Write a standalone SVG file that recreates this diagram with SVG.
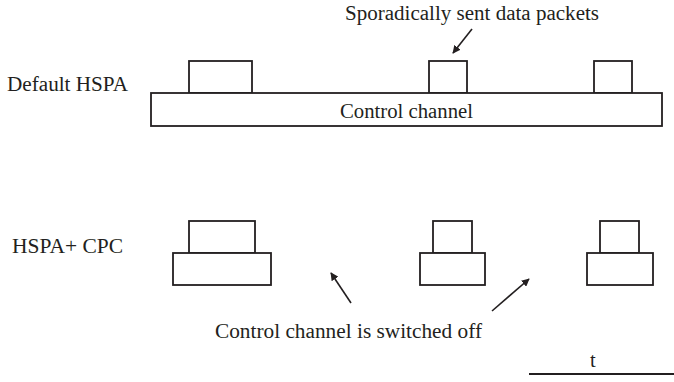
<svg xmlns="http://www.w3.org/2000/svg" width="674" height="382" viewBox="0 0 674 382">
<defs>
<style>
.b{fill:#fff;stroke:#231f20;stroke-width:1.8}
.t{font-family:'Liberation Serif','Times New Roman',serif;font-size:20.5px;fill:#231f20}
.c{stroke:#231f20;stroke-width:1.6;fill:none}
</style>
<marker id="ah" viewBox="0 0 10 10" refX="9" refY="5" markerWidth="8" markerHeight="8" markerUnits="userSpaceOnUse" orient="auto">
<path d="M0,0 L10,5 L0,10 z" fill="#231f20"/>
</marker>
</defs>
<rect width="674" height="382" fill="#fff"/>
<g id="labels">
<text class="t" x="7" y="91" textLength="121" lengthAdjust="spacingAndGlyphs">Default HSPA</text>
<text class="t" x="12" y="253" textLength="111" lengthAdjust="spacingAndGlyphs">HSPA+ CPC</text>
<text class="t" x="345" y="20" textLength="254" lengthAdjust="spacingAndGlyphs">Sporadically sent data packets</text>
<text class="t" x="215" y="338" textLength="267" lengthAdjust="spacingAndGlyphs">Control channel is switched off</text>
</g>
<g id="default-hspa">
<rect class="b" x="189" y="61" width="63" height="32"/>
<rect class="b" x="429" y="61" width="38" height="32"/>
<rect class="b" x="594" y="61" width="38" height="32"/>
<rect class="b" x="151" y="93" width="511" height="33"/>
<text class="t" x="340" y="118" textLength="133" lengthAdjust="spacingAndGlyphs">Control channel</text>
</g>
<g id="cpc-1">
<rect class="b" x="189" y="221" width="66" height="32"/>
<rect class="b" x="173" y="253" width="98" height="32"/>
</g>
<g id="cpc-2">
<rect class="b" x="433" y="221" width="39" height="32"/>
<rect class="b" x="420" y="253" width="65" height="32"/>
</g>
<g id="cpc-3">
<rect class="b" x="600" y="221" width="39" height="32"/>
<rect class="b" x="587" y="253" width="66" height="32"/>
</g>
<g id="connectors">
<line class="c" x1="472" y1="29" x2="453" y2="53" marker-end="url(#ah)"/>
<line class="c" x1="351" y1="303" x2="331" y2="273" marker-end="url(#ah)"/>
<line class="c" x1="492" y1="311" x2="529" y2="279" marker-end="url(#ah)"/>
</g>
<g id="time-axis">
<line x1="529" y1="374" x2="674" y2="374" stroke="#231f20" stroke-width="1.8"/>
<text class="t" x="590" y="367">t</text>
</g>
</svg>
